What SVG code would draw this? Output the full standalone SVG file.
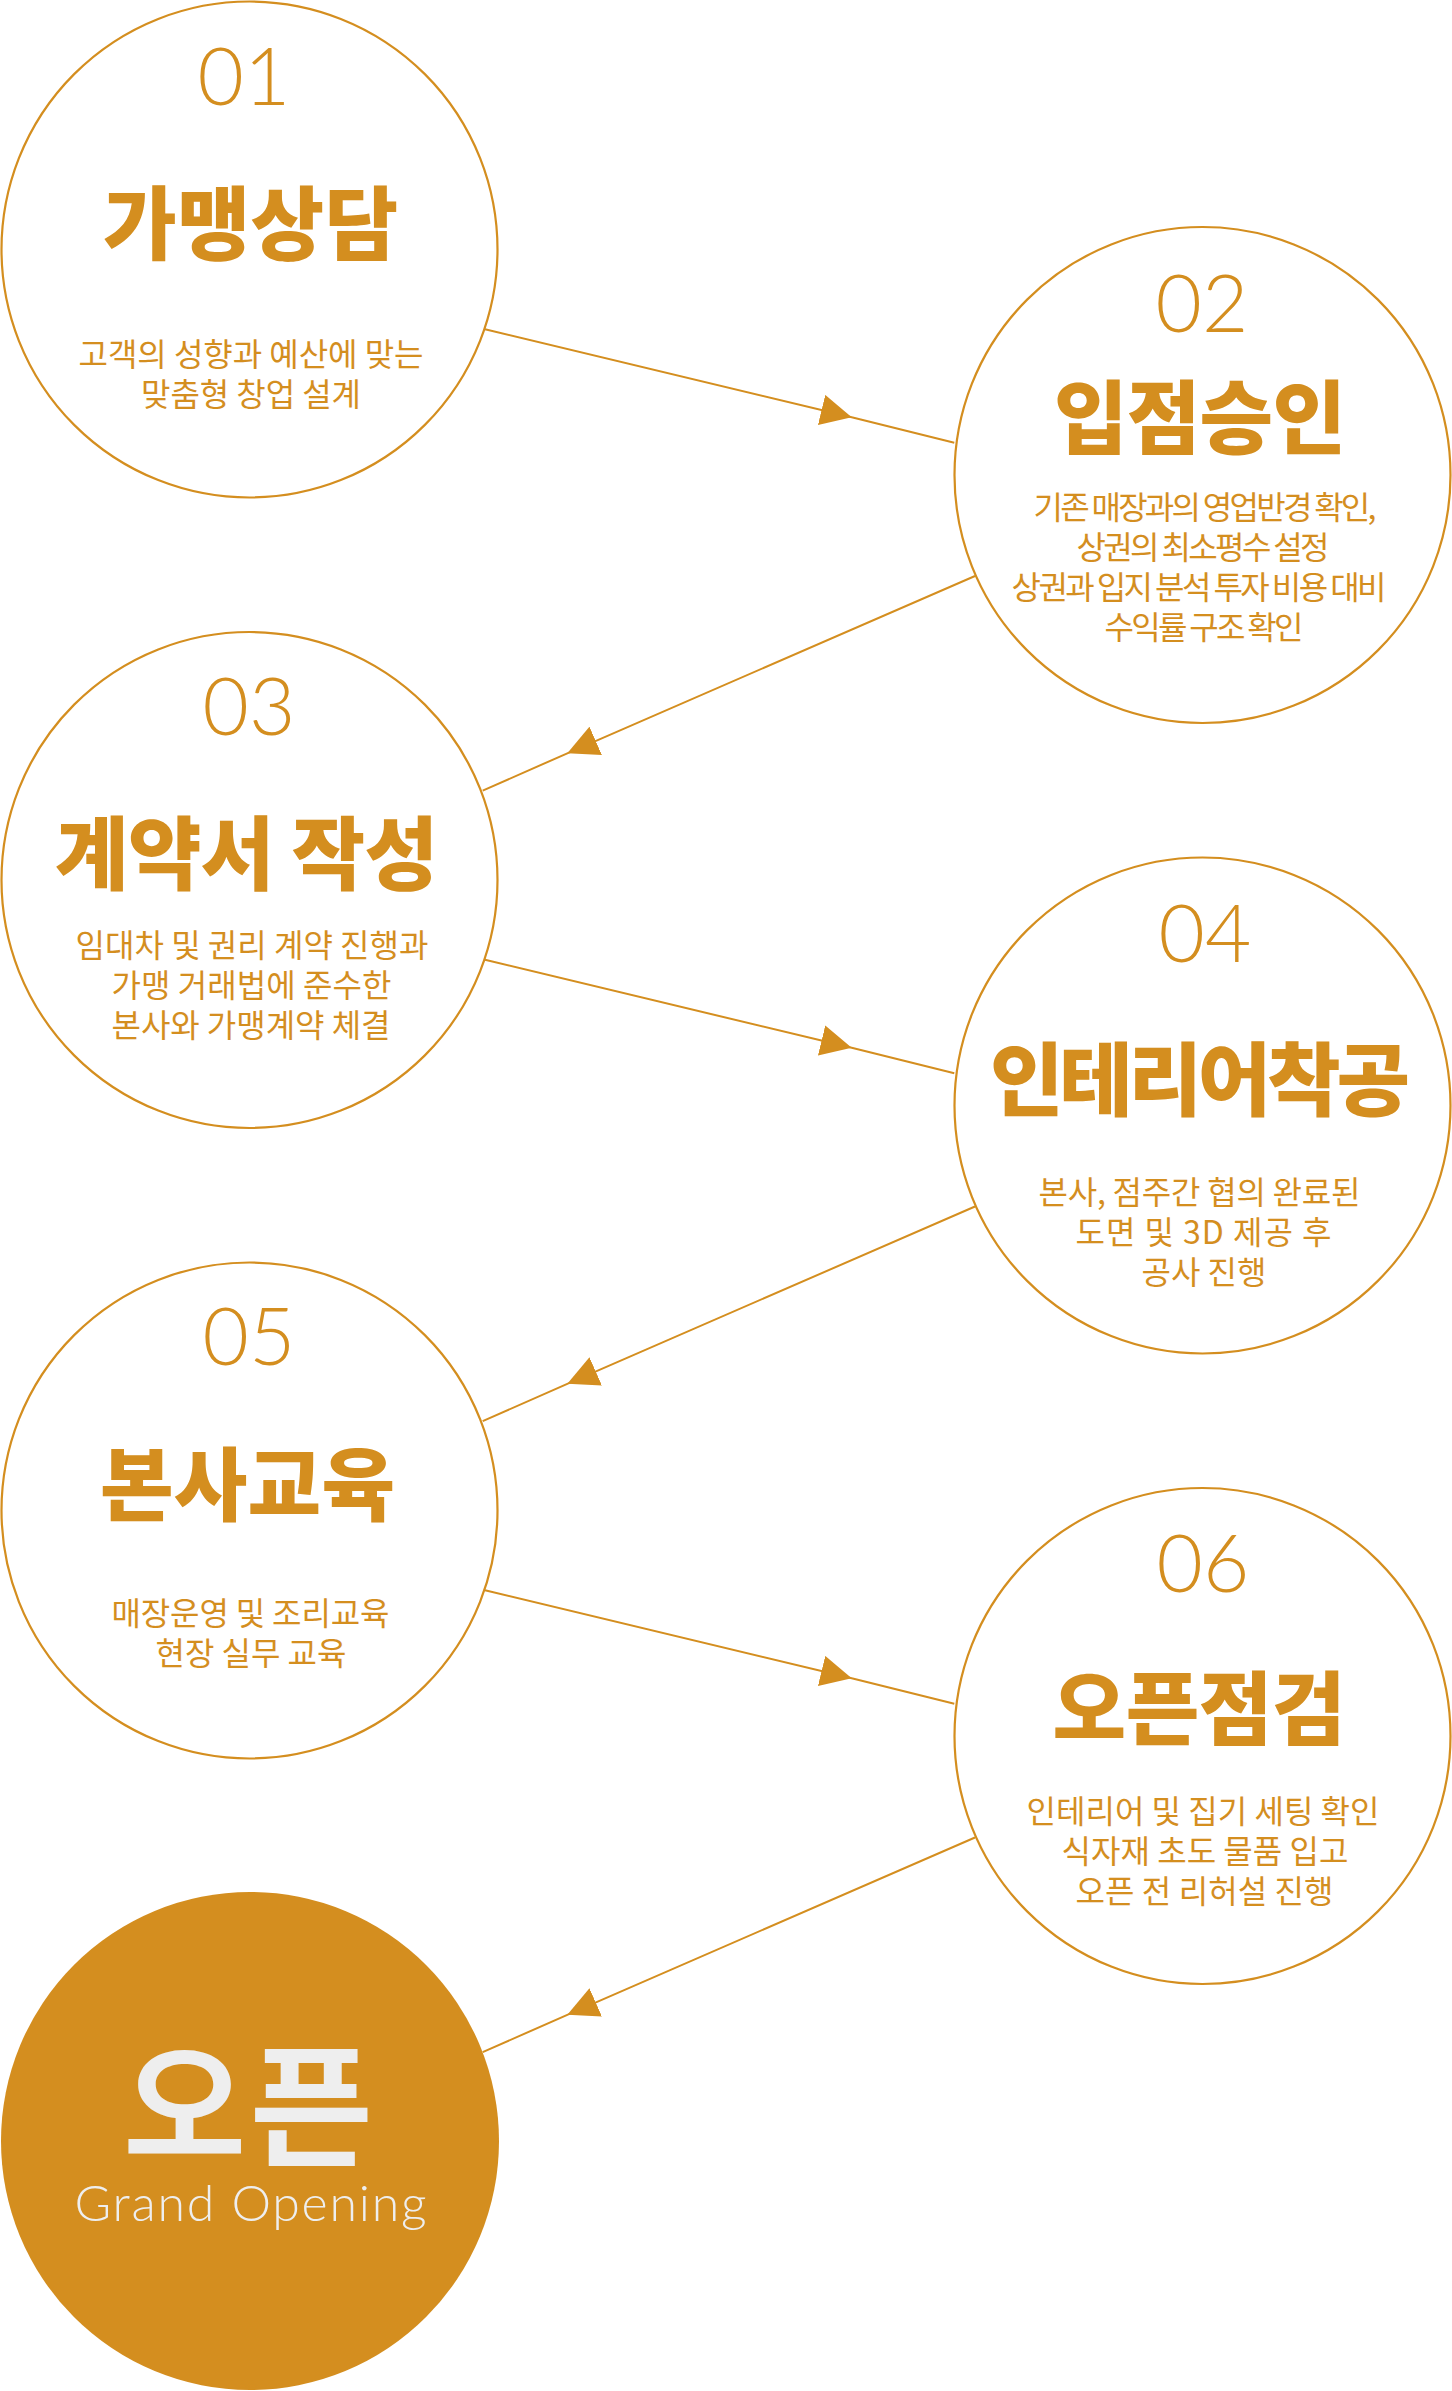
<svg xmlns="http://www.w3.org/2000/svg" width="1452" height="2391" viewBox="0 0 1452 2391">
<defs>
<style>
.step circle{fill:#fff;stroke:#D48E1F;stroke-width:2.2}
.num{font-family:Lato,"Noto Sans",sans-serif;font-weight:300;font-size:80px;fill:#D48E1F;text-anchor:middle}
.title{font-family:"Noto Sans CJK KR",sans-serif;font-weight:900;font-size:80px;fill:#D48E1F;text-anchor:middle}
.desc{font-family:"Noto Sans CJK KR",sans-serif;font-weight:400;font-size:32px;fill:#D48E1F;text-anchor:middle}
.conn path{fill:none;stroke:#D48E1F;stroke-width:2;marker-mid:url(#arr)}
.open circle{fill:#D48E1F}
.open .big{font-family:"Noto Sans CJK KR",sans-serif;font-weight:700;font-size:134px;fill:#EEEEEE;text-anchor:middle}
.open .en{font-family:Lato,"Noto Sans",sans-serif;font-weight:300;font-size:50px;fill:#EEEEEE;text-anchor:middle}
</style>
<marker id="arr" markerUnits="userSpaceOnUse" markerWidth="31" markerHeight="31" viewBox="0 0 31 31" refX="31" refY="15.5" orient="auto"><path d="M0,0L31,15.5L0,31z" fill="#D48E1F"/></marker>
</defs>
<rect width="1452" height="2391" fill="#fff"/>
<g id="connectors" class="conn">
<path d="M485,329.3L851.7,417.3L954.3,442.7"/>
<path d="M975,576L567.3,753.3L482.7,790.7"/>
<path d="M485,959.8L851.7,1047.8L954.3,1073.2"/>
<path d="M975,1206.5L567.3,1383.8L482.7,1421.2"/>
<path d="M485,1590.3L851.7,1678.3L954.3,1703.7"/>
<path d="M975,1837.5L567.3,2014.8L482.7,2052.2"/>
</g>
<g id="step01" class="step">
<circle cx="249.5" cy="249.5" r="248"/>
<text class="num" x="244" y="105">01</text>
<text class="title" x="250.5" y="253" textLength="295" lengthAdjust="spacing">가맹상담</text>
<text class="desc" x="251" y="366" textLength="345" lengthAdjust="spacing">고객의 성향과 예산에 맞는</text>
<text class="desc" x="251" y="406" textLength="220" lengthAdjust="spacing">맞춤형 창업 설계</text>
</g>
<g id="step02" class="step">
<circle cx="1202.5" cy="475" r="248"/>
<text class="num" x="1202" y="332">02</text>
<text class="title" x="1200" y="447" textLength="292" lengthAdjust="spacing">입점승인</text>
<text class="desc" x="1205" y="519" textLength="343" lengthAdjust="spacing">기존 매장과의 영업반경 확인,</text>
<text class="desc" x="1203" y="559" textLength="253" lengthAdjust="spacing">상권의 최소평수 설정</text>
<text class="desc" x="1199" y="599" textLength="375" lengthAdjust="spacing">상권과 입지 분석 투자 비용 대비</text>
<text class="desc" x="1204" y="639" textLength="199" lengthAdjust="spacing">수익률 구조 확인</text>
</g>
<g id="step03" class="step">
<circle cx="249.5" cy="880" r="248"/>
<text class="num" x="249" y="735">03</text>
<text class="title" x="246.5" y="883" textLength="383" lengthAdjust="spacing">계약서 작성</text>
<text class="desc" x="252" y="957" textLength="353" lengthAdjust="spacing">임대차 및 권리 계약 진행과</text>
<text class="desc" x="251.5" y="997" textLength="280" lengthAdjust="spacing">가맹 거래법에 준수한</text>
<text class="desc" x="251" y="1037" textLength="279" lengthAdjust="spacing">본사와 가맹계약 체결</text>
</g>
<g id="step04" class="step">
<circle cx="1202.5" cy="1105.5" r="248"/>
<text class="num" x="1205" y="962">04</text>
<text class="title" x="1200" y="1109" textLength="420" lengthAdjust="spacing">인테리어착공</text>
<text class="desc" x="1199.5" y="1204" textLength="322" lengthAdjust="spacing">본사, 점주간 협의 완료된</text>
<text class="desc" x="1203.5" y="1244" textLength="256" lengthAdjust="spacing">도면 및 3D 제공 후</text>
<text class="desc" x="1204" y="1284" textLength="125" lengthAdjust="spacing">공사 진행</text>
</g>
<g id="step05" class="step">
<circle cx="249.5" cy="1510.5" r="248"/>
<text class="num" x="249" y="1365">05</text>
<text class="title" x="247.5" y="1514" textLength="295" lengthAdjust="spacing">본사교육</text>
<text class="desc" x="250.5" y="1625" textLength="278" lengthAdjust="spacing">매장운영 및 조리교육</text>
<text class="desc" x="251" y="1665" textLength="191" lengthAdjust="spacing">현장 실무 교육</text>
</g>
<g id="step06" class="step">
<circle cx="1202.5" cy="1736" r="248"/>
<text class="num" x="1203" y="1592">06</text>
<text class="title" x="1199" y="1738" textLength="293" lengthAdjust="spacing">오픈점검</text>
<text class="desc" x="1203" y="1823" textLength="353" lengthAdjust="spacing">인테리어 및 집기 세팅 확인</text>
<text class="desc" x="1205" y="1863" textLength="287" lengthAdjust="spacing">식자재 초도 물품 입고</text>
<text class="desc" x="1204.5" y="1903" textLength="258" lengthAdjust="spacing">오픈 전 리허설 진행</text>
</g>
<g id="open" class="open">
<circle cx="250" cy="2141" r="249"/>
<text class="big" x="248" y="2156" textLength="250" lengthAdjust="spacing">오픈</text>
<text class="en" x="250.5" y="2221" textLength="352" lengthAdjust="spacing">Grand Opening</text>
</g>
</svg>
